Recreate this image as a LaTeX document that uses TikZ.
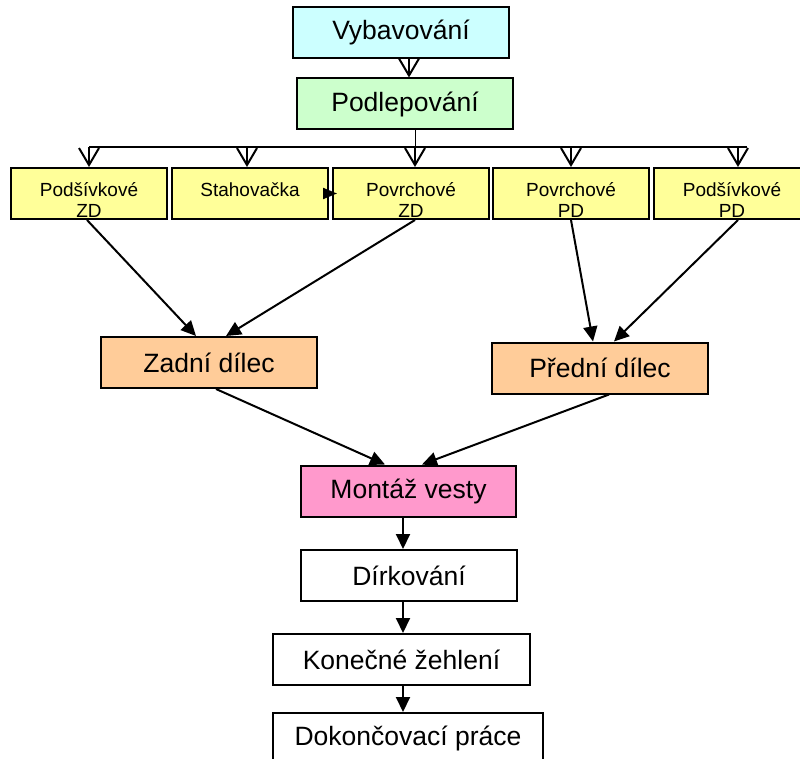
\documentclass[tikz,border=0pt]{standalone}
\usepackage{fontspec}
\setmainfont{Liberation Sans}
\usetikzlibrary{arrows.meta}

\definecolor{vybcyan}{HTML}{CCFFFF}
\definecolor{podlgreen}{HTML}{CCFFCC}
\definecolor{dilyellow}{HTML}{FFFF99}
\definecolor{dilecorange}{HTML}{FFCC99}
\definecolor{montpink}{HTML}{FF99CC}

\begin{document}
\begin{tikzpicture}[x=1pt, y=-1pt,
  box/.style={draw, line width=2pt, inner sep=0pt, minimum width=216pt, minimum height=51pt, font=\fontsize{26.5}{30}\selectfont},
  part/.style={box, minimum width=156pt, fill=dilyellow, align=center, text height=50pt, text depth=1pt, font=\fontsize{19}{21}\selectfont},
  open/.style={line width=2pt, -{Straight Barb[length=17pt,width=20pt]}},
  full/.style={line width=2pt, -{Triangle[length=15pt,width=14pt]}}]

\useasboundingbox (0,0) rectangle (800,759);

\node [box, fill=vybcyan]    (vyb)   at  (401, 32.5) {Vybavování};
\node [box, fill=podlgreen]  (podl)  at  (405, 104)  {Podlepování};

% -------- yellow row -----------
\node [part]  (pzd)   at  (89, 193.5)  {Podšívkové\\ZD};
\node [part, text height=29pt, text depth=22pt]  (stah)  at  (250, 193.5) {Stahovačka};
\node [part]  (vzd)   at  (411, 193.5) {Povrchové\\ZD};
\node [part]  (vpd)   at  (571, 193.5) {Povrchové\\PD};
\node [part]  (ppd)   at  (732, 193.5) {Podšívkové\\PD};

\node [box, fill=dilecorange]  (zad)   at  (209, 362.5) {Zadní dílec};
\node [box, fill=dilecorange]  (pred)  at  (600, 368)   {Přední dílec};

\node [box, fill=montpink, minimum width=215pt]  (mont)  at  (408.5, 491)  {Montáž vesty};
\node [box]                                      (dirk)  at  (409, 575.5)  {Dírkování};
\node [box, minimum width=257pt]                 (kon)   at  (401.5, 659.5) {Konečné žehlení};
\node [box, minimum width=270pt]                 (dok)   at  (408, 738.5)  {Dokončovací práce};

% -------- bus -----------
\coordinate (busl) at (89, 147);
\coordinate (busr) at (747, 147);

\draw   [open]   ([xshift=8pt]vyb.south) -- ([xshift=4pt]podl.north);
\draw   [line width=1pt]   ([xshift=10pt]podl.south) -- ([xshift=4pt]vzd.north |- busl);
\draw   [line width=2pt]   (busl) -- (busr);

\draw   [open]   (pzd.north |- busl) -- (pzd.north);
\draw   [open]   ([xshift=-3pt]stah.north |- busl) -- ([xshift=-3pt]stah.north);
\draw   [open]   ([xshift=4pt]vzd.north |- busl) -- ([xshift=4pt]vzd.north);
\draw   [open]   (vpd.north |- busl) -- (vpd.north);
\draw   [open]   ([xshift=6pt]ppd.north |- busl) -- ([xshift=6pt]ppd.north);

\draw   [line width=2pt, -{Triangle[length=14pt,width=11pt]}]   ([xshift=-6pt]stah.east) -- ([xshift=5pt]vzd.west);

% -------- into the two parts -----------
\draw   [full]   ([xshift=-2pt]pzd.south) -- ([xshift=-13pt]zad.north);
\draw   [full]   ([xshift=4pt]vzd.south) -- ([xshift=17pt]zad.north);
\draw   [full]   (vpd.south) -- ([xshift=-7pt]pred.north);
\draw   [full]   ([xshift=6pt]ppd.south) -- ([xshift=14pt]pred.north);

\draw   [full]   ([xshift=7pt]zad.south) -- ([xshift=-23.5pt]mont.north);
\draw   [full]   ([xshift=9pt]pred.south) -- ([xshift=13.5pt]mont.north);

% -------- down the chain -----------
\draw   [full]   ([xshift=-5.5pt]mont.south) -- ([xshift=-6pt]dirk.north);
\draw   [full]   ([xshift=-6pt]dirk.south) -- ([xshift=1.5pt]kon.north);
\draw   [full]   ([xshift=1.5pt]kon.south) -- ([xshift=-5pt]dok.north);

\end{tikzpicture}
\end{document}
